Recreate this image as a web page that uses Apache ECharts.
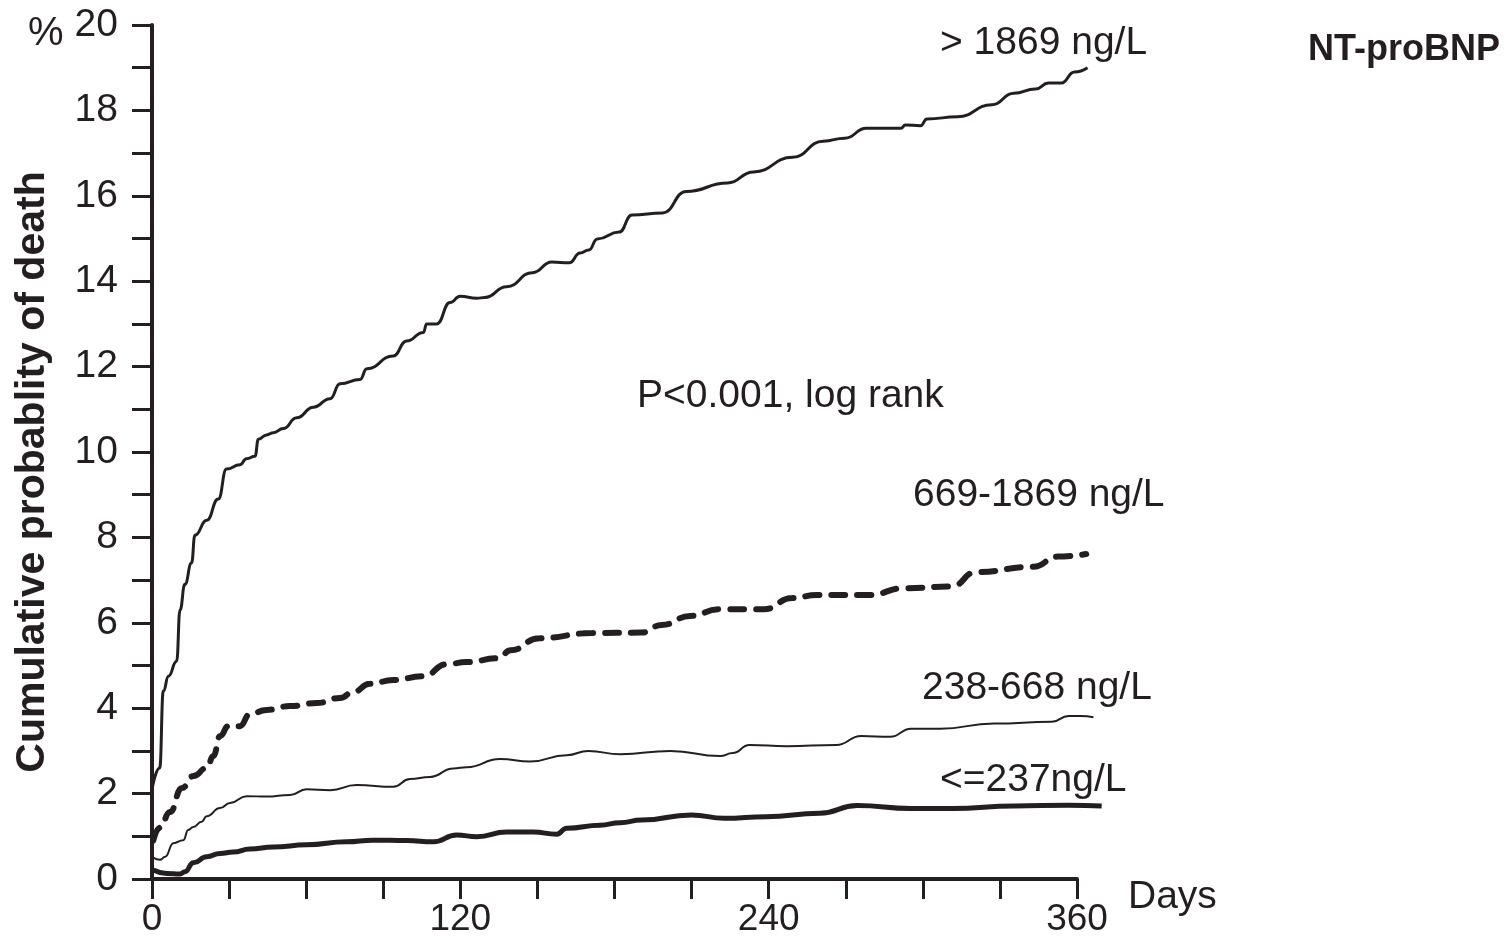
<!DOCTYPE html>
<html>
<head>
<meta charset="utf-8">
<script src="https://cdn.jsdelivr.net/npm/echarts@6/dist/echarts.min.js"></script>
<style>
  html, body { margin: 0; padding: 0; background: #fff; }
  #chart { width: 1510px; height: 939px; }
</style>
</head>
<body>
<div id="chart"></div>
<script>
// values: [day, cumulative % death]
var high = [[0,2.1],[3,2.6],[4.4,4.4],[6.4,4.75],[9.6,5.1],[10.9,6.3],[12.8,6.9],[15.4,7.4],[16.7,8.05],
  [21.3,8.4],[25.8,8.9],[29,9.6],[34.2,9.7],[36.8,9.84],[40.1,9.9],[41.4,10.3],[44.6,10.4],[47.2,10.45],
  [51.1,10.55],[56.3,10.8],[62.8,11.05],[69.3,11.25],[73.2,11.6],[81,11.7],[83.6,11.95],[93.9,12.25],
  [99.1,12.6],[105.6,12.8],[106.9,13.0],[110.8,13.0],[116,13.5],[119.9,13.65],[126.4,13.6],[129.5,13.62],
  [138,13.87],[148.1,14.2],[155.6,14.45],[162.4,14.43],[166.6,14.66],[170,14.73],[173.3,14.99],[181.8,15.15],
  [186.8,15.55],[198.7,15.6],[207.9,16.1],[224,16.3],[234.1,16.56],[249.3,16.9],[261.2,17.28],[269.6,17.35],
  [278,17.58],[291.5,17.58],[293.2,17.66],[299.1,17.64],[301.6,17.8],[313.5,17.85],[326.9,18.13],
  [335.4,18.4],[343.8,18.5],[348.9,18.64],[353.9,18.64],[359,18.9],[364.1,19.0]];

var mid = [[0.5,0.9],[3.1,1.2],[7,1.57],[11.6,2.13],[16.1,2.41],[21.3,2.6],[23.9,2.88],[26.5,3.35],
  [29.7,3.58],[34.2,3.58],[38.1,3.86],[44.6,3.96],[53.7,4.05],[64.1,4.12],[73.2,4.24],[78.3,4.38],
  [84.8,4.57],[93.9,4.66],[105.6,4.75],[114.7,5.03],[122.5,5.08],[134.9,5.17],[139.6,5.36],[150.8,5.64],
  [171.4,5.76],[190.5,5.77],[198.4,5.95],[209.5,6.16],[220.7,6.32],[238.2,6.32],[249.2,6.58],[258.8,6.65],
  [279.4,6.65],[292.2,6.81],[311.2,6.85],[320.7,7.19],[343,7.31],[352.5,7.55],[363.6,7.61]];

var lowMid = [[0.5,0.5],[3.1,0.45],[5.1,0.52],[8.3,0.84],[12.2,0.91],[14.1,1.15],[16.1,1.22],[19.3,1.34],
  [21.3,1.47],[26.5,1.66],[30.4,1.78],[36.8,1.94],[44.6,1.93],[53.7,1.97],[60.2,2.1],[69.3,2.08],
  [79.6,2.2],[93.9,2.16],[100.4,2.34],[108.2,2.39],[117.3,2.59],[122.5,2.62],[135.4,2.81],[147.1,2.75],
  [161.4,2.9],[169.8,3.0],[182.2,2.92],[201.8,3.0],[221.1,2.88],[226,2.95],[232.5,3.14],[247,3.11],
  [266.3,3.14],[276,3.35],[287.3,3.33],[295.4,3.52],[306.7,3.52],[327.7,3.64],[350.2,3.68],[356.7,3.82],
  [361.5,3.82],[366.4,3.79]];

var low = [[0.5,0.21],[5.7,0.13],[10.9,0.12],[12.8,0.17],[16.1,0.38],[21.3,0.52],[26.5,0.6],[31.6,0.63],
  [38.1,0.7],[47.2,0.75],[60.2,0.8],[75.7,0.87],[86.1,0.91],[99.1,0.9],[109.5,0.87],[118.6,1.03],
  [126.4,0.99],[138,1.1],[148.4,1.1],[157.5,1.05],[161.4,1.19],[174.4,1.26],[182.2,1.32],[190.5,1.38],
  [209.9,1.5],[222.8,1.42],[238.9,1.46],[259.9,1.54],[274.4,1.72],[295.4,1.65],[311.5,1.65],[335.7,1.71],
  [356.7,1.73],[369.6,1.71]];

var groupLabels = ['> 1869 ng/L', '669-1869 ng/L', '238-668 ng/L', '<=237ng/L'];

var ink = '#231f20';
var font = '"Liberation Sans", Arial, sans-serif';

// the curves run past day 360, the axis stops there: curves get their own wider grid
var axisMaxDay = 360;
var plotMaxDay = 382;
var pxPerDay = 925 / axisMaxDay;

function txt(x, y, s, size, weight) {
  return {
    type: 'text', left: x, top: y,
    style: { text: s, fill: ink, font: (weight || 'normal') + ' ' + size + 'px ' + font }
  };
}

function curve(name, data, width, dashed) {
  return {
    name: name, type: 'line', data: data, xAxisIndex: 1, yAxisIndex: 1,
    showSymbol: false, smooth: 0.5, smoothMonotone: 'x',
    lineStyle: { color: ink, width: width, type: dashed ? [14, 12] : 'solid', cap: dashed ? 'round' : 'butt' }
  };
}

var chart = echarts.init(document.getElementById('chart'));
chart.setOption({
  animation: false,
  grid: [
    { left: 152, width: 925, top: 25, bottom: 60 },
    { left: 152, width: plotMaxDay * pxPerDay, top: 25, bottom: 60 }
  ],
  xAxis: [{
    type: 'value', gridIndex: 0, min: 0, max: axisMaxDay, interval: 30,
    axisLine: { lineStyle: { color: ink, width: 4 } },
    axisTick: { length: 20, lineStyle: { color: ink, width: 3 } },
    axisLabel: {
      margin: 22, color: ink, fontSize: 37, fontFamily: font,
      formatter: function (v) { return v % 120 === 0 ? v : ''; }
    },
    splitLine: { show: false }
  }, {
    type: 'value', gridIndex: 1, min: 0, max: plotMaxDay, show: false
  }],
  yAxis: [{
    type: 'value', gridIndex: 0, min: 0, max: 20, interval: 1,
    axisLine: { show: true, lineStyle: { color: ink, width: 4 } },
    axisTick: { show: true, length: 20, lineStyle: { color: ink, width: 3 } },
    axisLabel: {
      margin: 34, color: ink, fontSize: 39, fontFamily: font,
      formatter: function (v) { return v % 2 === 0 ? v : ''; }
    },
    splitLine: { show: false }
  }, {
    type: 'value', gridIndex: 1, min: 0, max: 20, show: false
  }],
  series: [
    curve(groupLabels[0], high, 3, false),
    curve(groupLabels[1], mid, 6, true),
    curve(groupLabels[2], lowMid, 2, false),
    curve(groupLabels[3], low, 5, false)
  ],
  graphic: [
    txt(28, 14, '%', 40),
    txt(1128, 878, 'Days', 39),
    txt(1308, 32, 'NT-proBNP', 36, 'bold'),
    txt(940, 24, groupLabels[0], 39),
    txt(637, 377, 'P<0.001, log rank', 39),
    txt(913, 476, groupLabels[1], 39),
    txt(922, 669, groupLabels[2], 39),
    txt(940, 761, groupLabels[3], 39),
    {
      type: 'text', x: 33, y: 472, rotation: Math.PI / 2,
      style: {
        text: 'Cumulative probablity of death', fill: ink,
        font: 'bold 41px ' + font, align: 'center', verticalAlign: 'middle'
      }
    }
  ]
});
</script>
</body>
</html>
